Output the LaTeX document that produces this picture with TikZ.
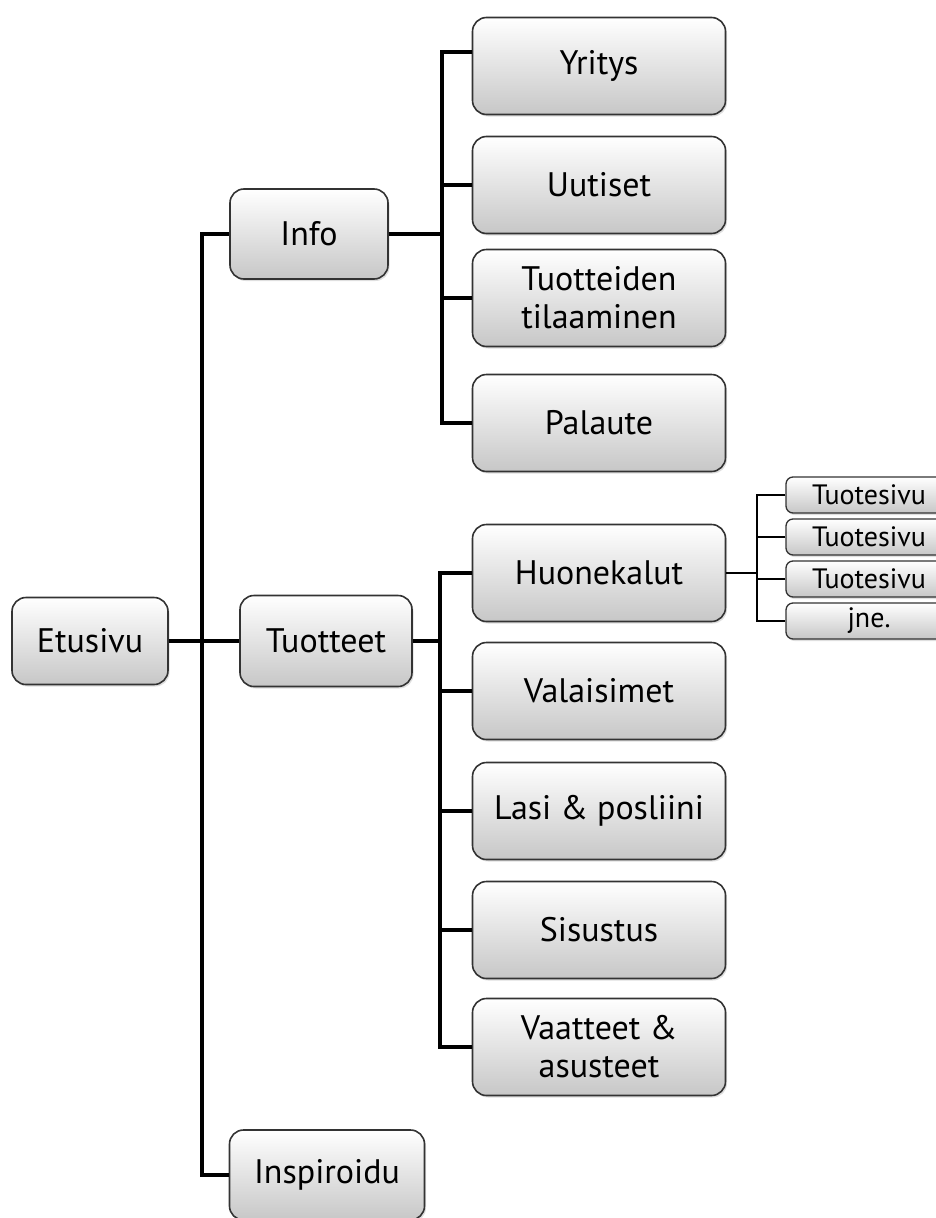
\documentclass[tikz,border=0pt]{standalone}
\usepackage{fontspec}
\setmainfont{PT Sans}
\usetikzlibrary{shadows}
\usetikzlibrary{positioning}

\begin{document}
\begin{tikzpicture}[
				x=1pt, y=-1pt,
				link/.style={line width=4pt, black},
				block/.style={draw=black!80, line width=1.6pt, rounded corners=14pt,
					top color=white, bottom color=black!22, align=center,
					minimum width=253pt, minimum height=97pt, inner sep=2pt,
					font=\fontsize{34}{38}\selectfont,
					drop shadow={shadow xshift=1.5pt, shadow yshift=-2pt, opacity=.25}},
				leaf/.style={block, rounded corners=7pt, line width=1.3pt,
					minimum width=166pt, minimum height=36pt, inner sep=0pt,
					font=\fontsize{28}{30}\selectfont},
			]
				\useasboundingbox (0,0) rectangle (936,1218);
				\clip (0,0) rectangle (936,1218);

				\node[block, minimum width=156pt, minimum height=87pt] (etusivu) at (90,641) {Etusivu};
				\node[block, minimum width=158pt, minimum height=90pt] (info) at (309,234) {Info};
				\node[block, minimum width=172pt, minimum height=91pt] (tuotteet) at (326,641) {Tuotteet};
				\node[block, minimum width=195pt, minimum height=90pt] (inspiroidu) at (327,1175) {Inspiroidu};

				\node[block] (yritys) at (599,66) {Yritys};
				\node[block] (uutiset) at (599,185) {Uutiset};
				\node[block] (tilaaminen) at (599,298) {Tuotteiden\\tilaaminen};
				\node[block] (palaute) at (599,423) {Palaute};

				\node[block] (huonekalut) at (599,573) {Huonekalut};
				\node[block] (valaisimet) at (599,691) {Valaisimet};
				\node[block] (lasi) at (599,811) {Lasi \& posliini};
				\node[block] (sisustus) at (599,930) {Sisustus};
				\node[block] (vaatteet) at (599,1047) {Vaatteet \&\\asusteet};

				\node[leaf] (sivu1) at (869,495) {Tuotesivu};
				\node[leaf] (sivu2) at (869,537) {Tuotesivu};
				\node[leaf] (sivu3) at (869,579) {Tuotesivu};
				\node[leaf] (jne) at (869,621) {jne.};

				\coordinate (mainbus) at (202,0);
				\coordinate (infobus) at (442,0);
				\coordinate (prodbus) at (440,0);
				\coordinate (sivubus) at (757,0);

				% main level
				\draw[link] (info.west) -| (mainbus |- inspiroidu.west) -- (inspiroidu.west);
				\draw[link] (etusivu.east) -- (tuotteet.west);

				% info
				\draw[link] ([yshift=14pt]yritys.west) -| (infobus |- palaute.west) -- (palaute.west);
				\draw[link] (info.east) -- (info.east -| infobus);
				\foreach \n in {uutiset, tilaaminen}
					\draw[link] (\n.west) -- (\n.west -| infobus);

				% tuotteet
				\draw[link] (huonekalut.west) -| (prodbus |- vaatteet.west) -- (vaatteet.west);
				\draw[link] (tuotteet.east) -- (tuotteet.east -| prodbus);
				\foreach \n in {valaisimet, lasi, sisustus}
					\draw[link] (\n.west) -- (\n.west -| prodbus);

				% tuotesivut
				\draw[link, line width=2.5pt] (sivu1.west) -| (sivubus |- jne.west) -- (jne.west);
				\draw[link, line width=2.5pt] (huonekalut.east) -- (huonekalut.east -| sivubus);
				\foreach \n in {sivu2, sivu3}
					\draw[link, line width=2.5pt] (\n.west) -- (\n.west -| sivubus);
			\end{tikzpicture}
\end{document}
